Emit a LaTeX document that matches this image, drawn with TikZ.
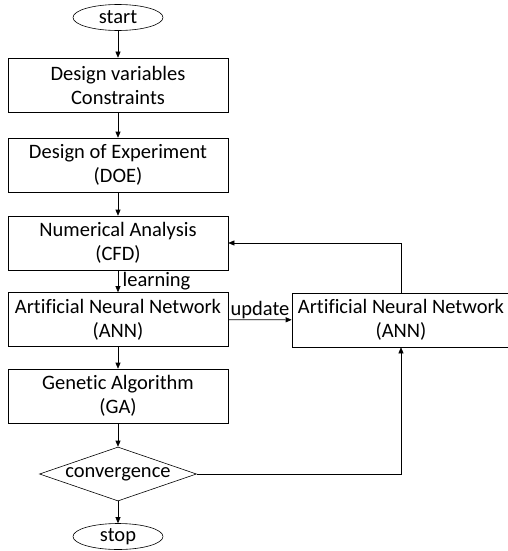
\documentclass[tikz,border=0pt]{standalone}
\usepackage{fontspec}
\setmainfont{Carlito}[Ligatures=NoCommon]
\usepackage{tikz}
\usetikzlibrary{shapes.geometric,arrows.meta}
\tikzset{
  stepbox/.style={rectangle, draw, minimum width=220pt, minimum height=54pt, inner sep=2pt, align=center},
  endbox/.style={ellipse, draw, minimum width=90pt, minimum height=26pt, inner sep=0pt},
  testbox/.style={diamond, draw, aspect=2.9, minimum width=157pt, minimum height=54pt, inner sep=-3pt},
}
\newcommand{\fcendnode}[3] {\node at (#1) (#2) [endbox] {#3};}
\newcommand{\fcstepnode}[3] {\node at (#1) (#2) [stepbox] {#3};}
\newcommand{\fctransition}[3] {\draw [->] (#1) -- (#2) node [midway, right] {#3};}

\begin{document}
\begin{tikzpicture}[x=1pt, y=-1pt, >={Triangle[length=6pt, width=5pt]}, font=\fontsize{20.5}{24}\selectfont, line width=0.6pt]
\useasboundingbox (0,0) rectangle (508,551);

\fcendnode {118,17.5}{start}{start};
\fcstepnode {118,85}{dv}{Design variables\\Constraints};
\fcstepnode {118,165}{doe}{Design of Experiment\\(DOE)};
\fcstepnode {118,243}{cfd}{Numerical Analysis\\(CFD)};
\fcstepnode {118,319.5}{ann}{Artificial Neural Network\\(ANN)};
\fcstepnode {118,396}{ga}{Genetic Algorithm\\(GA)};
\node at (118,474) (conv) [testbox] {convergence};
\fcendnode {118,536.5}{stop}{stop};
\node at (401,320) (annr) [stepbox, minimum width=218pt] {Artificial Neural Network\\(ANN)};

\fctransition{start}{dv}{};
\fctransition{dv}{doe}{};
\fctransition{doe}{cfd}{};
\draw [->] (cfd) -- (ann) node [midway, right, xshift=1pt] {learning};
\fctransition{ann}{ga}{};
\fctransition{ga}{conv}{};
\fctransition{conv}{stop}{};
\draw [->] (ann) -- (annr) node [midway, above, inner sep=1pt] {update};
\draw [->] (conv.east) -| (annr.south);
\draw [->] (annr.north) |- (cfd.east);

\end{tikzpicture}
\end{document}
